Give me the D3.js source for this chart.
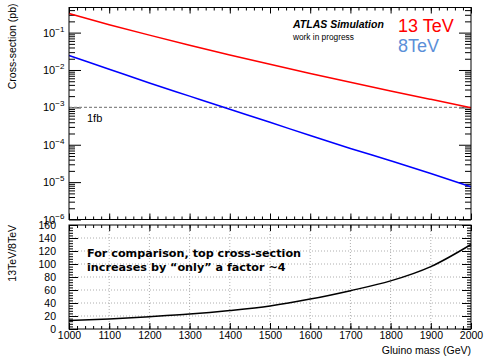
<!DOCTYPE html>
<html>
<head>
<meta charset="utf-8">
<script src="https://cdn.jsdelivr.net/npm/d3@7"></script>
<style>
  body { margin: 0; background: #fff; }
  svg { font-family: "Liberation Sans", Arial, sans-serif; }
</style>
</head>
<body>
<svg width="484" height="357"></svg>
<script>
const masses = [1000, 1100, 1200, 1300, 1400, 1500, 1600, 1700, 1800, 1900, 2000];
const xsec13 = [0.325, 0.163, 0.0856, 0.0461, 0.0253, 0.0142, 0.0081, 0.0047, 0.00276, 0.00164, 0.00098];
const xsec8 = [0.0245, 0.0105, 0.0045, 0.0020, 0.00089, 0.00040, 0.000176, 0.0000797, 0.0000373, 0.0000171, 0.0000075];
const ratio = [13, 15.5, 19, 23, 28.5, 35.5, 46, 59, 74, 96, 130];
const decades = [-6, -5, -4, -3, -2, -1];
const ratioTicks = [0, 20, 40, 60, 80, 100, 120, 140, 160];
const massTicks = [1000, 1100, 1200, 1300, 1400, 1500, 1600, 1700, 1800, 1900, 2000];

const svg = d3.select("svg");
const left = 69, right = 471;
const top1 = 7.5, bot1 = 219.5, top2 = 225, bot2 = 329;

const x = d3.scaleLinear().domain([1000, 2000]).range([left, right]);
const y = d3.scaleLog().domain([1e-6, 0.47]).range([bot1, top1]);
const y2 = d3.scaleLinear().domain([0, 160]).range([bot2, top2]);

// minor tick values
const logMinor = [];
for (let e = -6; e <= 0; e++) for (let k = 2; k <= 9; k++) {
  const v = k * Math.pow(10, e);
  if (v < 0.47) logMinor.push(v);
}
const massMinor = d3.range(1000, 2001, 20);
const ratioMinor = d3.range(0, 161, 4);

function ticks(g, axis) { g.call(axis).call(a => a.select(".domain").remove()); }

// ---- top panel ----
const p1 = svg.append("g");
p1.append("g").attr("transform", `translate(${left},0)`)
  .call(g => ticks(g, d3.axisLeft(y).tickValues(decades.map(e => Math.pow(10, e))).tickSize(-12).tickFormat("")));
p1.append("g").attr("transform", `translate(${left},0)`)
  .call(g => ticks(g, d3.axisLeft(y).tickValues(logMinor).tickSize(-6).tickFormat("")));
p1.append("g").attr("transform", `translate(${right},0)`)
  .call(g => ticks(g, d3.axisRight(y).tickValues(decades.map(e => Math.pow(10, e))).tickSize(-12).tickFormat("")));
p1.append("g").attr("transform", `translate(${right},0)`)
  .call(g => ticks(g, d3.axisRight(y).tickValues(logMinor).tickSize(-6).tickFormat("")));
p1.append("g").attr("transform", `translate(0,${bot1})`)
  .call(g => ticks(g, d3.axisBottom(x).tickValues(massTicks).tickSize(-6).tickFormat("")));
p1.append("g").attr("transform", `translate(0,${bot1})`)
  .call(g => ticks(g, d3.axisBottom(x).tickValues(massMinor).tickSize(-3).tickFormat("")));
p1.append("g").attr("transform", `translate(0,${top1})`)
  .call(g => ticks(g, d3.axisTop(x).tickValues(massTicks).tickSize(-6).tickFormat("")));
p1.append("g").attr("transform", `translate(0,${top1})`)
  .call(g => ticks(g, d3.axisTop(x).tickValues(massMinor).tickSize(-3).tickFormat("")));
p1.selectAll(".tick line").attr("stroke", "#000");

// log labels 10^n
const lab = p1.append("g").attr("font-size", 11).attr("fill", "#000");
decades.forEach(e => {
  const t = lab.append("text").attr("x", 43).attr("y", y(Math.pow(10, e)) + 4);
  t.append("tspan").text("10");
  t.append("tspan").attr("dy", -5).attr("font-size", 8).text("\u2212" + (-e));
});

// 1fb line
p1.append("line")
  .attr("x1", left).attr("x2", right)
  .attr("y1", y(1e-3)).attr("y2", y(1e-3))
  .attr("stroke", "#888").attr("stroke-width", 1.2).attr("stroke-dasharray", "3,2");
p1.append("text").attr("x", 87).attr("y", 122).attr("font-size", 11).text("1fb");

const line = d3.line().x((d, i) => x(masses[i])).y(d => y(d)).curve(d3.curveMonotoneX);
p1.append("path").datum(xsec13).attr("fill", "none").attr("stroke", "#ff0000").attr("stroke-width", 1.5).attr("d", line);
p1.append("path").datum(xsec8).attr("fill", "none").attr("stroke", "#0000ff").attr("stroke-width", 1.5).attr("d", line);

p1.append("rect").attr("x", left).attr("y", top1).attr("width", right - left).attr("height", bot1 - top1)
  .attr("fill", "none").attr("stroke", "#000");

p1.append("text").attr("transform", `translate(16,${top1 - 4}) rotate(-90)`)
  .attr("text-anchor", "end").attr("font-size", 10.5).text("Cross-section (pb)");

p1.append("text").attr("x", 293).attr("y", 28).attr("font-size", 10.5)
  .attr("font-weight", "bold").attr("font-style", "italic").text("ATLAS Simulation");
p1.append("text").attr("x", 293).attr("y", 40).attr("font-size", 8.3).text("work in progress");
p1.append("text").attr("x", 398).attr("y", 32).attr("font-size", 18).attr("fill", "#ff0000").text("13 TeV");
p1.append("text").attr("x", 398).attr("y", 52).attr("font-size", 18).attr("fill", "#5b8fd8").text("8TeV");

// ---- ratio panel ----
const p2 = svg.append("g");
const grid = p2.append("g").attr("stroke", "#999").attr("stroke-dasharray", "1,2").attr("stroke-width", 0.8);
grid.selectAll(".h").data(ratioTicks.slice(1, -1)).join("line")
  .attr("x1", left).attr("x2", right).attr("y1", d => y2(d)).attr("y2", d => y2(d));
grid.selectAll(".v").data(massTicks.slice(1, -1)).join("line")
  .attr("x1", d => x(d)).attr("x2", d => x(d)).attr("y1", top2).attr("y2", bot2);

p2.append("g").attr("transform", `translate(${left},0)`)
  .call(g => ticks(g, d3.axisLeft(y2).tickValues(ratioTicks).tickSize(-9).tickPadding(13)))
  .attr("font-family", null).attr("font-size", 10.5);
p2.append("g").attr("transform", `translate(${left},0)`)
  .call(g => ticks(g, d3.axisLeft(y2).tickValues(ratioMinor).tickSize(-4).tickFormat("")));
p2.append("g").attr("transform", `translate(${right},0)`)
  .call(g => ticks(g, d3.axisRight(y2).tickValues(ratioTicks).tickSize(-9).tickFormat("")));
p2.append("g").attr("transform", `translate(${right},0)`)
  .call(g => ticks(g, d3.axisRight(y2).tickValues(ratioMinor).tickSize(-4).tickFormat("")));
p2.append("g").attr("transform", `translate(0,${bot2})`)
  .call(g => ticks(g, d3.axisBottom(x).tickValues(massTicks).tickSize(-6).tickPadding(3).tickFormat(d3.format("d"))))
  .attr("font-family", null).attr("font-size", 10.5);
p2.append("g").attr("transform", `translate(0,${bot2})`)
  .call(g => ticks(g, d3.axisBottom(x).tickValues(massMinor).tickSize(-3).tickFormat("")));
p2.append("g").attr("transform", `translate(0,${top2})`)
  .call(g => ticks(g, d3.axisTop(x).tickValues(massTicks).tickSize(-6).tickFormat("")));
p2.append("g").attr("transform", `translate(0,${top2})`)
  .call(g => ticks(g, d3.axisTop(x).tickValues(massMinor).tickSize(-3).tickFormat("")));
p2.selectAll(".tick line").attr("stroke", "#000");
p2.selectAll(".tick text").attr("fill", "#000");

const rline = d3.line().x((d, i) => x(masses[i])).y(d => y2(d)).curve(d3.curveMonotoneX);
p2.append("path").datum(ratio).attr("fill", "none").attr("stroke", "#000").attr("stroke-width", 1.5).attr("d", rline);

p2.append("rect").attr("x", left).attr("y", top2).attr("width", right - left).attr("height", bot2 - top2)
  .attr("fill", "none").attr("stroke", "#000");

p2.append("text").attr("transform", `translate(16,${top2}) rotate(-90)`)
  .attr("text-anchor", "end").attr("font-size", 10.5).text("13TeV/8TeV");
p2.append("text").attr("x", right).attr("y", 354).attr("text-anchor", "end")
  .attr("font-size", 10.5).text("Gluino mass (GeV)");

const note = p2.append("text").attr("font-family", "DejaVu Sans").attr("font-weight", "bold").attr("font-size", 11.2);
note.append("tspan").attr("x", 87).attr("y", 257).text("For comparison, top cross-section");
note.append("tspan").attr("x", 87).attr("y", 271).text("increases by \u201conly\u201d a factor ~4");
</script>
</body>
</html>
